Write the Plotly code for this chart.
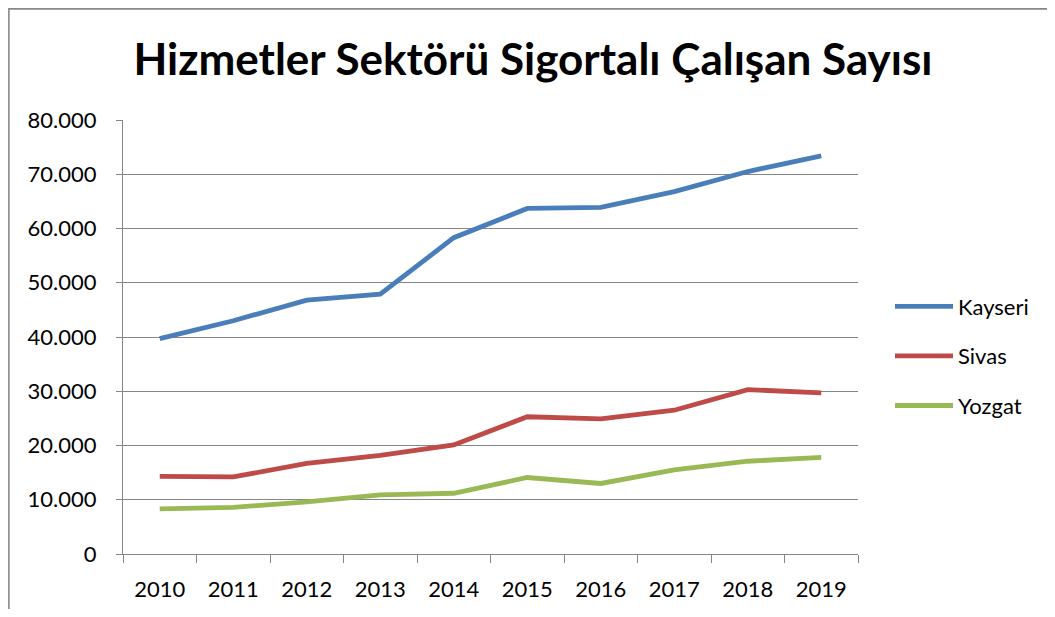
import plotly.graph_objects as go

years = ["2010", "2011", "2012", "2013", "2014", "2015", "2016", "2017", "2018", "2019"]
kayseri = [39700, 43000, 46800, 47900, 58300, 63700, 63900, 66800, 70500, 73400]
sivas = [14300, 14200, 16700, 18200, 20100, 25300, 24900, 26500, 30300, 29700]
yozgat = [8300, 8600, 9600, 10900, 11200, 14100, 13000, 15500, 17100, 17800]

series_names = ["Kayseri", "Sivas", "Yozgat"]
series_colors = ["#4A7EBB", "#BE4B48", "#98B954"]
y_ticks = [0, 10000, 20000, 30000, 40000, 50000, 60000, 70000, 80000]
title_text = "Hizmetler Sektörü Sigortalı Çalışan Sayısı"

OFF = 8  # page body margin
W, H = 1055 - 2 * OFF, 617 - 2 * OFF
L, T = 123 - OFF, 120 - OFF
pw, ph = 735, 434
R, B = W - L - pw, H - T - ph

FONT = "Lato, Open Sans, sans-serif"
GRID = "#868686"

fig = go.Figure()
for name, vals, col in zip(series_names, [kayseri, sivas, yozgat], series_colors):
    fig.add_trace(go.Scatter(
        x=years, y=vals, name=name, mode="lines", legendgroup=name,
        line=dict(color=col, width=4.8),
    ))

def sx(px):  # screen pixel x -> paper
    return (px - OFF - L) / pw

def sy(py):  # screen pixel y -> paper
    return (T + ph - (py - OFF)) / ph

fig.add_shape(type="rect", xref="paper", yref="paper",
              x0=sx(8.9), x1=sx(1100), y0=sy(700), y1=sy(8.9),
              line=dict(color="#888888", width=1.6), fillcolor="rgba(0,0,0,0)", layer="below")

fig.update_layout(
    width=W, height=H,
    margin=dict(l=L, r=R, t=T, b=B, autoexpand=False),
    paper_bgcolor="white", plot_bgcolor="white",
    separators=",.",
    font=dict(family=FONT, size=22, color="black"),
    title=dict(text=title_text, x=(533 - OFF) / W, xanchor="center",
               y=1 - (60 - OFF) / H, yanchor="middle",
               font=dict(family=FONT, size=44, color="black", weight="bold")),
    showlegend=True,
    legend=dict(x=sx(890), xanchor="left", y=sy(356), yanchor="middle", itemwidth=58,
                font=dict(family=FONT, size=22), tracegroupgap=18, bgcolor="rgba(0,0,0,0)"),
    xaxis=dict(type="category", range=[-0.5, 9.5], tickson="boundaries", ticks="outside",
               ticklen=8, tickcolor=GRID, tickwidth=1.3, showline=True, linecolor=GRID, linewidth=1.3,
               showgrid=False, ticklabelstandoff=15, tickfont=dict(size=22)),
    yaxis=dict(range=[0, 80000], tickvals=y_ticks, tickformat=",d", ticks="outside", ticklen=6,
               tickcolor=GRID, tickwidth=1.3, showline=True, linecolor=GRID, linewidth=1.3,
               showgrid=True, gridcolor=GRID, gridwidth=1.3, zeroline=False,
               ticklabelstandoff=15, tickfont=dict(size=22)),
)

fig.write_html("out.html")
